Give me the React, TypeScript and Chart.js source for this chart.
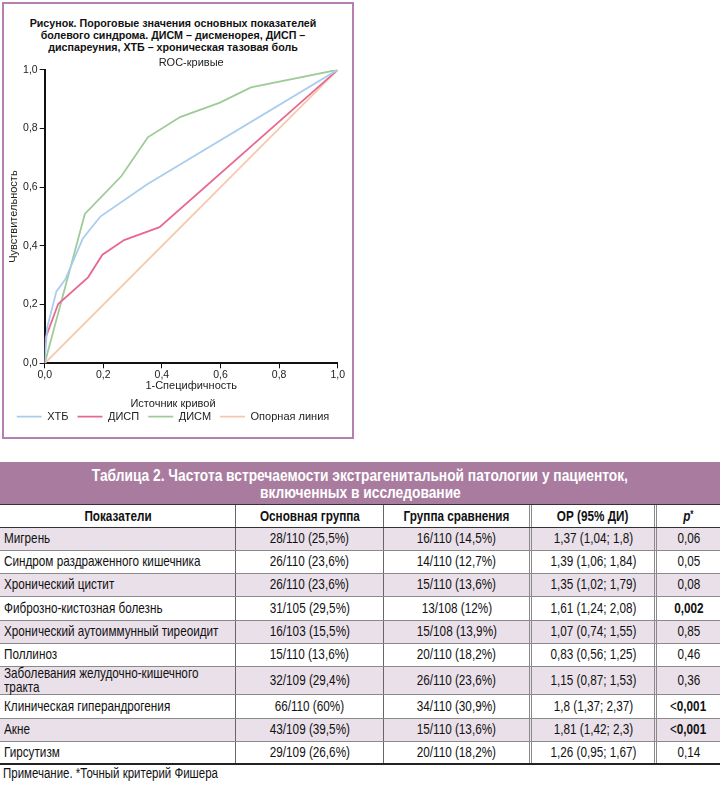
import React, { useEffect, useRef } from 'react';
import { Chart, registerables } from 'chart.js';

Chart.register(...registerables);

// ---------- Chart data ----------
const figureCaption = [
  'Рисунок. Пороговые значения основных показателей',
  'болевого синдрома. ДИСМ – дисменорея, ДИСП –',
  'диспареуния, ХТБ – хроническая тазовая боль',
];
const rocTitle = 'ROC-кривые';
const xAxisTitle = '1-Специфичность';
const yAxisTitle = 'Чувствительность';
const legendTitle = 'Источник кривой';
const seriesNames = ['ХТБ', 'ДИСП', 'ДИСМ', 'Опорная линия'];

const xtbFpr = [0, 0.008, 0.04, 0.07, 0.13, 0.19, 0.35, 1];
const xtbTpr = [0, 0.12, 0.245, 0.285, 0.425, 0.5, 0.61, 1];

const dispFpr = [0, 0, 0.046, 0.148, 0.197, 0.271, 0.392, 1];
const dispTpr = [0, 0.079, 0.202, 0.293, 0.37, 0.42, 0.464, 1];

const dismFpr = [0, 0.137, 0.262, 0.352, 0.462, 0.598, 0.704, 1];
const dismTpr = [0, 0.509, 0.638, 0.77, 0.839, 0.888, 0.94, 1];

const refFpr = [0, 1];
const refTpr = [0, 1];

const axisTicks = [0, 0.2, 0.4, 0.6, 0.8, 1.0];

// ---------- Table data ----------
const tableTitle = [
  'Таблица 2. Частота встречаемости экстрагенитальной патологии у пациенток,',
  'включенных в исследование',
];
const tableHeaders = ['Показатели', 'Основная группа', 'Группа сравнения', 'ОР (95% ДИ)'];
const indicators = [
  ['Мигрень'],
  ['Синдром раздраженного кишечника'],
  ['Хронический цистит'],
  ['Фиброзно-кистозная болезнь'],
  ['Хронический аутоиммунный тиреоидит'],
  ['Поллиноз'],
  ['Заболевания желудочно-кишечного', 'тракта'],
  ['Клиническая гиперандрогения'],
  ['Акне'],
  ['Гирсутизм'],
];
const mainGroup = [
  '28/110 (25,5%)', '26/110 (23,6%)', '26/110 (23,6%)', '31/105 (29,5%)', '16/103 (15,5%)',
  '15/110 (13,6%)', '32/109 (29,4%)', '66/110 (60%)', '43/109 (39,5%)', '29/109 (26,6%)',
];
const compGroup = [
  '16/110 (14,5%)', '14/110 (12,7%)', '15/110 (13,6%)', '13/108 (12%)', '15/108 (13,9%)',
  '20/110 (18,2%)', '26/110 (23,6%)', '34/110 (30,9%)', '15/110 (13,6%)', '20/110 (18,2%)',
];
const orCi = [
  '1,37 (1,04; 1,8)', '1,39 (1,06; 1,84)', '1,35 (1,02; 1,79)', '1,61 (1,24; 2,08)', '1,07 (0,74; 1,55)',
  '0,83 (0,56; 1,25)', '1,15 (0,87; 1,53)', '1,8 (1,37; 2,37)', '1,81 (1,42; 2,3)', '1,26 (0,95; 1,67)',
];
const pPrefix = ['', '', '', '', '', '', '', '<', '<', ''];
const pValues = ['0,06', '0,05', '0,08', '0,002', '0,85', '0,46', '0,36', '0,001', '0,001', '0,14'];
const pSignificant = [false, false, false, true, false, false, false, true, true, false];
const tableNote = 'Примечание. *Точный критерий Фишера';

// ---------- styles ----------
const SANS = '"Liberation Sans", Arial, Helvetica, sans-serif';
const colW = [235, 148, 146, 125, 66];
const SHADE = '#eae0e9';
const BAND = '#a97c9f';
const NARROW_SCALE = 0.82;

const fmt = (v: number) => Number(v).toFixed(1).replace('.', ',');
const pts = (xs: number[], ys: number[]) => xs.map((x, i) => ({ x, y: ys[i] }));

const rocTitlePlugin = {
  id: 'rocTitle',
  afterDraw(chart: any) {
    const { ctx, chartArea } = chart;
    ctx.save();
    ctx.font = `11px ${SANS}`;
    ctx.fillStyle = '#222';
    ctx.textAlign = 'center';
    ctx.textBaseline = 'middle';
    ctx.fillText(rocTitle, (chartArea.left + chartArea.right) / 2, chartArea.top - 6.8);
    ctx.restore();
  },
};

function RocChart() {
  const ref = useRef<HTMLCanvasElement | null>(null);
  useEffect(() => {
    if (!ref.current) return;
    const colors = ['#a9cdee', '#e8698f', '#9fcb98', '#f6c7ad'];
    const series = [
      pts(xtbFpr, xtbTpr),
      pts(dispFpr, dispTpr),
      pts(dismFpr, dismTpr),
      pts(refFpr, refTpr),
    ];
    const chart = new Chart(ref.current, {
      type: 'scatter',
      data: {
        datasets: series.map((d, i) => ({
          label: seriesNames[i],
          data: d,
          showLine: true,
          borderColor: colors[i],
          backgroundColor: colors[i],
          borderWidth: 1.8,
          pointRadius: 0,
          pointHoverRadius: 0,
          tension: 0,
          order: i === 3 ? 10 : i,
        })),
      },
      options: {
        animation: false,
        responsive: true,
        maintainAspectRatio: false,
        font: { family: SANS },
        layout: { autoPadding: false, padding: { left: 0, right: 0, top: 19.8, bottom: 2.8 } },
        plugins: {
          tooltip: { enabled: false },
          title: { display: false },
          legend: {
            display: true,
            position: 'bottom',
            align: 'center',
            title: {
              display: true,
              text: legendTitle,
              color: '#222',
              font: { family: SANS, size: 11, lineHeight: 1 },
              padding: { top: 0, bottom: -7.6 },
            },
            labels: {
              usePointStyle: true,
              pointStyle: 'line',
              pointStyleWidth: 25,
              padding: 9,
              color: '#222',
              font: { family: SANS, size: 11 },
            },
          },
        },
        scales: {
          x: {
            type: 'linear',
            min: 0,
            max: 1,
            afterFit: (s: any) => { s.height = 35.5; },
            afterBuildTicks: (s: any) => { s.ticks = axisTicks.map((v) => ({ value: v })); },
            ticks: { padding: 1, color: '#222', font: { family: SANS, size: 10.5 }, callback: (v: any) => fmt(v) },
            grid: { display: true, drawOnChartArea: false, drawTicks: true, tickLength: 5, color: '#111', lineWidth: 1 },
            border: { display: true, color: '#111', width: 2 },
            title: { display: true, text: xAxisTitle, color: '#222', font: { family: SANS, size: 11 }, padding: { top: 0, bottom: 5.9 } },
          },
          y: {
            type: 'linear',
            min: 0,
            max: 1,
            afterFit: (s: any) => { s.width = 44.7; },
            afterBuildTicks: (s: any) => { s.ticks = axisTicks.map((v) => ({ value: v })); },
            ticks: { padding: 2, color: '#222', font: { family: SANS, size: 10.5 }, callback: (v: any) => fmt(v) },
            grid: { display: true, drawOnChartArea: false, drawTicks: true, tickLength: 5, color: '#111', lineWidth: 1 },
            border: { display: true, color: '#111', width: 2 },
            title: { display: true, text: yAxisTitle, color: '#222', font: { family: SANS, size: 11 }, padding: { top: 7, bottom: 0 } },
          },
          yRightSpacer: {
            type: 'linear',
            position: 'right',
            display: true,
            min: 0,
            max: 1,
            afterFit: (s: any) => { s.width = 7.3; },
            ticks: { display: false },
            grid: { display: false },
            border: { display: false },
            title: { display: false },
          },
        },
      } as any,
      plugins: [rocTitlePlugin],
    });
    return () => chart.destroy();
  }, []);
  return (
    <div style={{ position: 'absolute', left: 0, top: 50, width: 346, height: 385 }}>
      <canvas ref={ref} />
    </div>
  );
}

function Nar({ children, origin = 'center' }: any) {
  return (
    <span
      style={{
        display: 'inline-block',
        whiteSpace: 'nowrap',
        transform: `scaleX(${NARROW_SCALE})`,
        transformOrigin: origin,
      }}
    >
      {children}
    </span>
  );
}

function Cell({ i, children, align }: any) {
  const borders: any = [
    {},
    { borderLeft: '1px solid #666' },
    { borderLeft: '1px solid #666' },
    { borderLeft: '3px double #8a8a8a' },
    { borderLeft: '3px double #8a8a8a' },
  ];
  const left = align === 'left';
  return (
    <div
      style={{
        boxSizing: 'border-box',
        width: colW[i],
        flex: 'none',
        height: '100%',
        display: 'flex',
        alignItems: 'center',
        justifyContent: left ? 'flex-start' : 'center',
        paddingLeft: left ? 4 : 0,
        overflow: 'visible',
        ...borders[i],
      }}
    >
      <Nar origin={left ? 'left center' : 'center'}>{children}</Nar>
    </div>
  );
}

function DataTable() {
  return (
    <div style={{ position: 'absolute', left: 0, top: 462, width: 720, fontFamily: SANS, color: '#111' }}>
      <div
        style={{
          boxSizing: 'border-box',
          height: 42,
          background: BAND,
          color: '#fff',
          fontWeight: 'bold',
          fontSize: 16.8,
          lineHeight: '17px',
          paddingTop: 5,
          textAlign: 'center',
        }}
      >
        {tableTitle.map((t, i) => (
          <div key={i}>
            <Nar>{t}</Nar>
          </div>
        ))}
      </div>
      <div
        style={{
          boxSizing: 'border-box',
          height: 23.5,
          display: 'flex',
          borderTop: '1.5px solid #333',
          borderBottom: '1px solid #333',
          fontWeight: 'bold',
          fontSize: 14.3,
        }}
      >
        {tableHeaders.map((h, i) => (
          <Cell key={i} i={i}>{h}</Cell>
        ))}
        <Cell i={4}>
          <span style={{ fontStyle: 'italic' }}>p</span>
          <span style={{ fontSize: 10, position: 'relative', top: -3 }}>*</span>
        </Cell>
      </div>
      {indicators.map((name, r) => (
        <div
          key={r}
          style={{
            boxSizing: 'border-box',
            height: name.length > 1 ? 28 : 23.3,
            display: 'flex',
            background: r % 2 === 0 ? SHADE : '#fff',
            borderBottom: r === indicators.length - 1 ? '2px solid #222' : '1px solid #8a8a8a',
            fontSize: 14.3,
            lineHeight: '13.5px',
          }}
        >
          <Cell i={0} align="left">
            {name.map((n, k) => (
              <div key={k}>{n}</div>
            ))}
          </Cell>
          <Cell i={1}>{mainGroup[r]}</Cell>
          <Cell i={2}>{compGroup[r]}</Cell>
          <Cell i={3}>{orCi[r]}</Cell>
          <Cell i={4}>
            {pPrefix[r]}
            <span style={{ fontWeight: pSignificant[r] ? 'bold' : 'normal' }}>{pValues[r]}</span>
          </Cell>
        </div>
      ))}
      <div style={{ fontSize: 14, lineHeight: '16px', paddingLeft: 3 }}>
        <Nar origin="left center">{tableNote}</Nar>
      </div>
    </div>
  );
}

export default function App() {
  return (
    <div
      style={{
        position: 'absolute',
        left: 0,
        top: 0,
        width: 720,
        height: 795,
        overflow: 'hidden',
        background: '#fff',
      }}
    >
      <div
        style={{
          position: 'absolute',
          left: 2,
          top: 2,
          width: 352,
          height: 437,
          boxSizing: 'border-box',
          border: '2px solid #b67fb0',
          background: '#fff',
        }}
      />
      <div
        style={{
          position: 'absolute',
          left: 0,
          top: 16.5,
          width: 346,
          textAlign: 'center',
          fontFamily: SANS,
          fontWeight: 'bold',
          fontSize: 10.7,
          lineHeight: '12px',
          color: '#111',
        }}
      >
        {figureCaption.map((t, i) => (
          <div key={i}>{t}</div>
        ))}
      </div>
      <RocChart />
      <DataTable />
    </div>
  );
}
